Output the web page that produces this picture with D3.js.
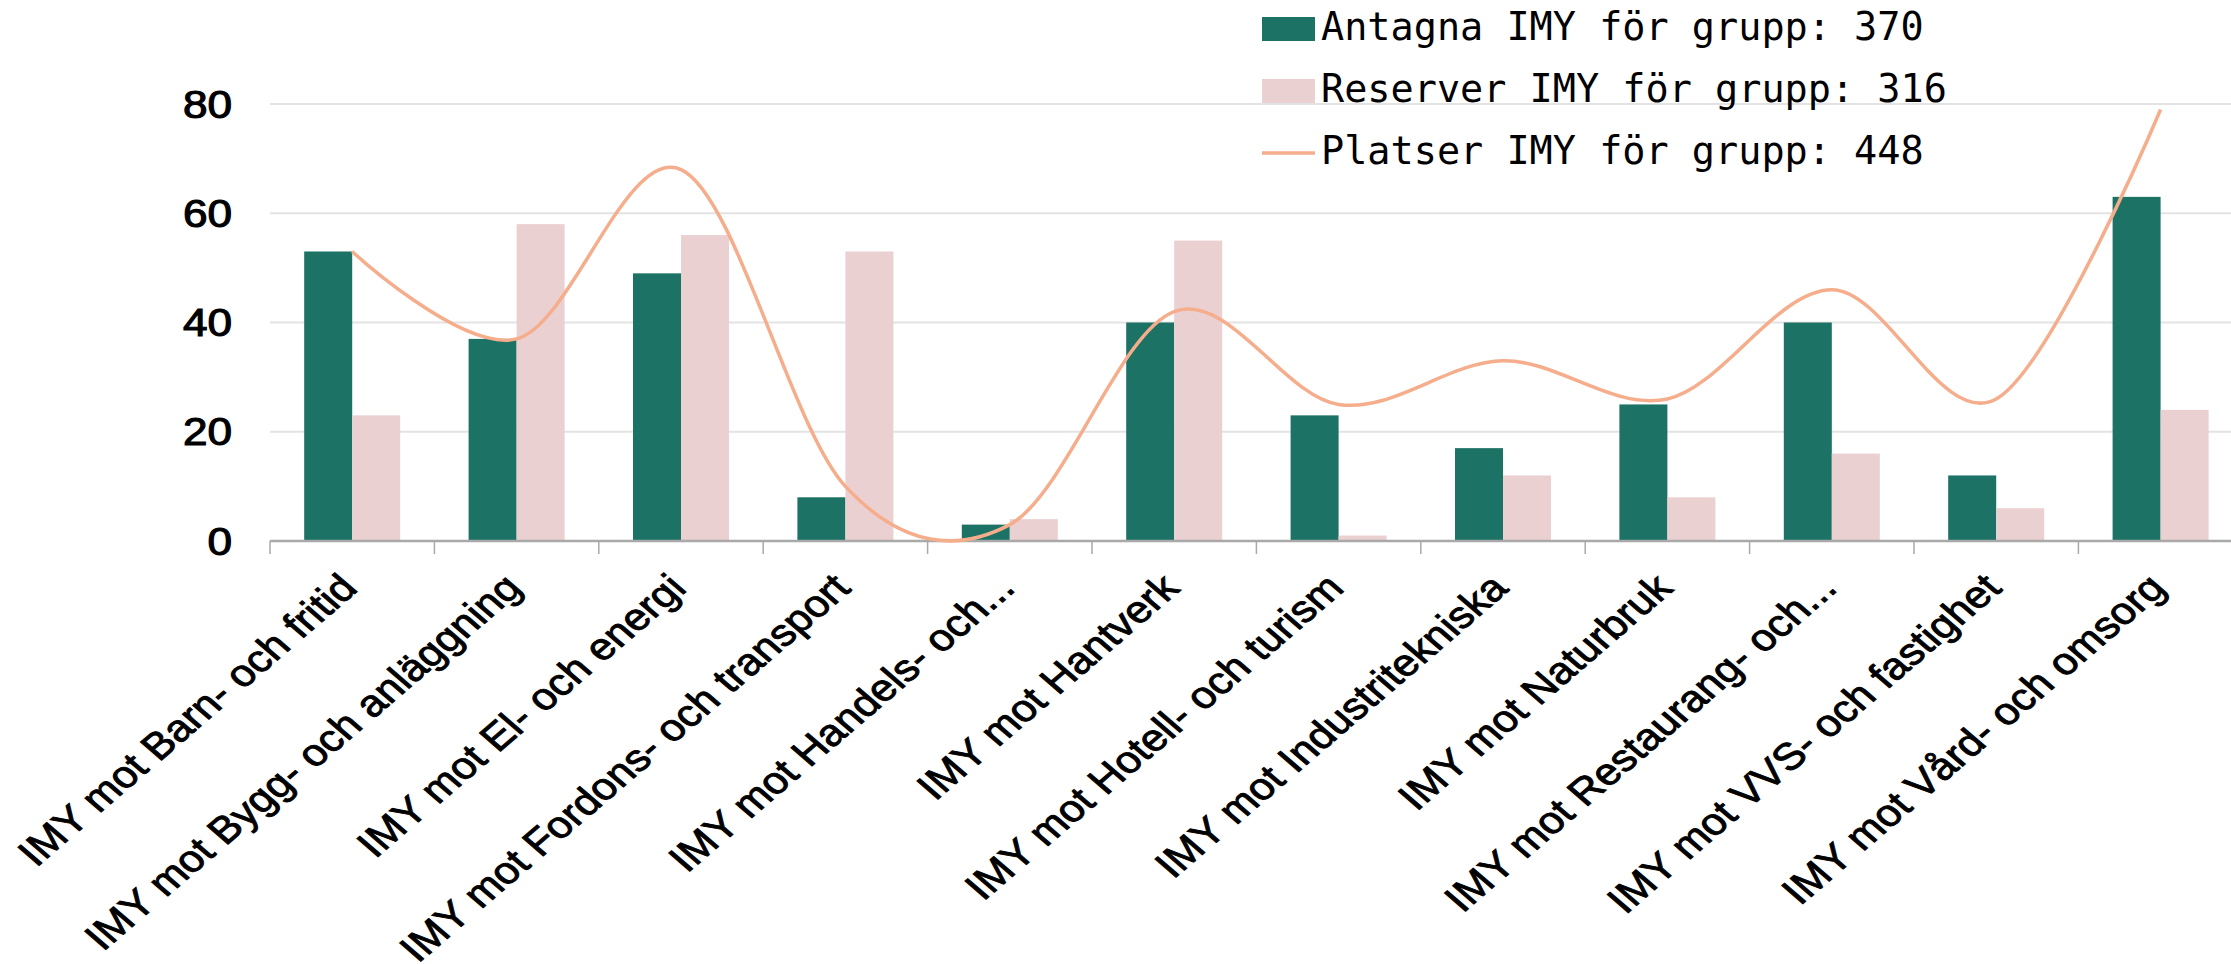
<!DOCTYPE html>
<html>
<head>
<meta charset="utf-8">
<script src="https://cdn.jsdelivr.net/npm/d3@7"></script>
<style>
html,body{margin:0;padding:0;background:#fff;}
svg{display:block;}
</style>
</head>
<body>
<script>
const categories = [
  "IMY mot Barn- och fritid",
  "IMY mot Bygg- och anläggning",
  "IMY mot El- och energi",
  "IMY mot Fordons- och transport",
  "IMY mot Handels- och...",
  "IMY mot Hantverk",
  "IMY mot Hotell- och turism",
  "IMY mot Industritekniska",
  "IMY mot Naturbruk",
  "IMY mot Restaurang- och...",
  "IMY mot VVS- och fastighet",
  "IMY mot Vård- och omsorg"
];
const antagna  = [53, 37, 49, 8, 3, 40, 23, 17, 25, 40, 12, 63];
const reserver = [23, 58, 56, 53, 4, 55, 1, 12, 8, 16, 6, 24];
const platser  = [53, 37, 68, 10, 3, 42, 25, 33, 26, 46, 26, 79];
const yTicks = [0, 20, 40, 60, 80];
const seriesNames = ["Antagna", "Reserver"];
const legendLabels = [
  "Antagna IMY för grupp: 370",
  "Reserver IMY för grupp: 316",
  "Platser IMY för grupp: 448"
];

const W = 2231, H = 964;
const SX = 1.162; // horizontal stretch of axis text
const colGreen = "#1b7265", colPink = "#ead0d1", colLine = "#f5ad8c";
const fontSans = "'Liberation Sans', Arial, Helvetica, sans-serif";
const fontMono = "'DejaVu Sans Mono', 'Liberation Mono', monospace";

const svg = d3.select("body").append("svg").attr("width", W).attr("height", H);

const plotLeft = 270, band = 164.4;
const x0 = d3.scaleBand().domain(categories).range([plotLeft, plotLeft + band * categories.length]).padding(0);
const bw = x0.bandwidth();
const barW = 48;
const x1 = d3.scaleBand().domain(seriesNames).range([bw / 2 - barW, bw / 2 + barW]).padding(0);
const y = d3.scaleLinear().domain([0, 80]).range([541, 104]);

// gridlines
svg.append("g").selectAll("line").data(yTicks.filter(d => d > 0)).join("line")
  .attr("x1", plotLeft).attr("x2", W)
  .attr("y1", d => y(d)).attr("y2", d => y(d))
  .attr("stroke", "#e3e3e3").attr("stroke-width", 2);

// y labels
svg.append("g").selectAll("text").data(yTicks).join("text")
  .attr("transform", d => `translate(232,${y(d)}) scale(${SX},1)`)
  .attr("text-anchor", "end")
  .attr("dy", "0.36em")
  .attr("font-family", fontSans)
  .attr("font-size", 38)
  .attr("fill", "#000")
  .attr("stroke", "#000").attr("stroke-width", 1.1)
  .text(d => d);

// bars
const rows = categories.map((c, i) => ({c, vals: [antagna[i], reserver[i]]}));
const gBars = svg.append("g");
const barCols = [colGreen, colPink];
rows.forEach(r => {
  r.vals.forEach((v, k) => {
    gBars.append("rect")
      .attr("x", x0(r.c) + x1(seriesNames[k]))
      .attr("width", x1.bandwidth())
      .attr("y", y(v))
      .attr("height", y(0) - y(v))
      .attr("fill", barCols[k]);
  });
});

// x axis line and ticks
svg.append("line").attr("x1", plotLeft).attr("x2", W).attr("y1", y(0)).attr("y2", y(0))
  .attr("stroke", "#a9a9a9").attr("stroke-width", 2.5);
const tickPos = categories.map(c => x0(c)).concat([x0.range()[1]]);
svg.append("g").selectAll("line").data(tickPos).join("line")
  .attr("x1", d => d).attr("x2", d => d)
  .attr("y1", y(0)).attr("y2", y(0) + 13)
  .attr("stroke", "#a9a9a9").attr("stroke-width", 1.5);

// x labels
svg.append("g").selectAll("text").data(categories).join("text")
  .attr("transform", d => `translate(${x0(d) + bw / 2 + 7},590) scale(${SX},1) rotate(-45)`)
  .attr("text-anchor", "end")
  .attr("font-family", fontSans)
  .attr("font-size", 37.5)
  .attr("fill", "#000")
  .attr("stroke", "#000").attr("stroke-width", 0.9)
  .text(d => d);

// line
const line = d3.line()
  .x((d, i) => x0(categories[i]) + bw / 2)
  .y(d => y(d))
  .curve(d3.curveCardinal.tension(0));
svg.append("path").datum(platser)
  .attr("d", line)
  .attr("fill", "none")
  .attr("stroke", colLine)
  .attr("stroke-width", 3.5);

// legend
const lg = svg.append("g");
const baselines = [40, 102, 164];
legendLabels.forEach((t, i) => {
  const by = baselines[i];
  if (i < 2) {
    lg.append("rect").attr("x", 1262).attr("y", by - 23).attr("width", 53).attr("height", 24)
      .attr("fill", barCols[i]);
  } else {
    lg.append("line").attr("x1", 1262).attr("x2", 1315).attr("y1", by - 11).attr("y2", by - 11)
      .attr("stroke", colLine).attr("stroke-width", 3.5);
  }
  lg.append("text")
    .attr("x", 1321).attr("y", by)
    .attr("font-family", fontMono)
    .attr("font-size", 38.5)
    .attr("fill", "#000")
    .text(t);
});
</script>
</body>
</html>
